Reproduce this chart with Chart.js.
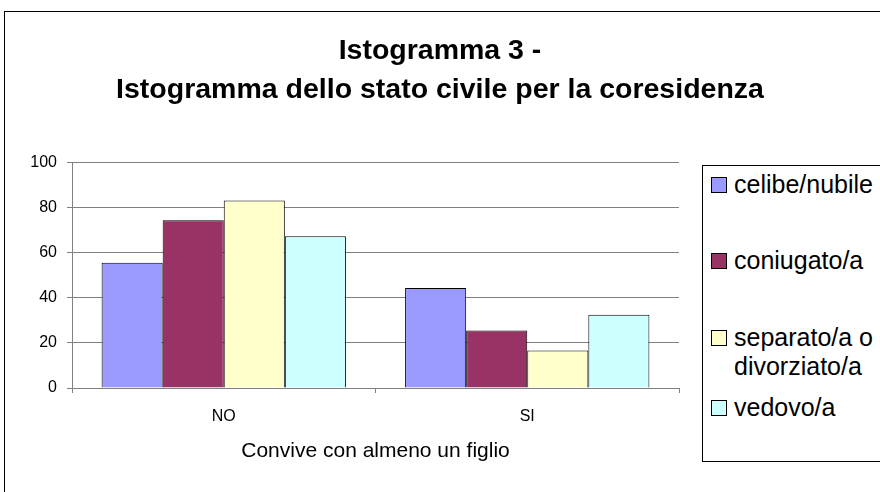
<!DOCTYPE html>
<html>
<head>
<meta charset="utf-8">
<script src="https://cdn.jsdelivr.net/npm/chart.js@4.4.0/dist/chart.umd.min.js"></script>
<style>
  html, body { margin: 0; padding: 0; background: #fff; overflow: hidden; }
  #wrap { position: relative; width: 880px; height: 492px; }
  #c { position: absolute; left: 0; top: 0; }
  #frame { position: absolute; left: 4px; top: 11px; width: 900px; height: 500px;
           border-top: 1px solid #000; border-left: 1px solid #000; pointer-events: none; }
  #legend { position: absolute; left: 702px; top: 165px; width: 200px; height: 295px;
            border: 1px solid #000; background: #fff;
            font-family: "Liberation Sans", Arial, sans-serif; font-size: 25px; color: #000; }
  .item { position: absolute; left: 8px; width: 150px; line-height: 29px; }
  .sw { position: absolute; left: 0; top: 7px; width: 14px; height: 14px; border: 1px solid #000; }
  .txt { position: absolute; left: 23px; top: 0; width: 146px; }
</style>
</head>
<body>
<div id="wrap">
  <canvas id="c" width="880" height="492"></canvas>
  <div id="frame"></div>
  <div id="legend"></div>
</div>
<script>
// ---- data ----
const titleLines = ["Istogramma 3 -", "Istogramma dello stato civile per la coresidenza"];
const categories = ["NO", "SI"];
const xAxisTitle = "Convive con almeno un figlio";
const seriesLabels = ["celibe/nubile", "coniugato/a", "separato/a o divorziato/a", "vedovo/a"];
const celibeNubile = [55.6, 44.4];
const coniugato = [74.5, 25.5];
const separatoDivorziato = [83.3, 16.7];
const vedovo = [67.4, 32.6];
const yTicks = [0, 20, 40, 60, 80, 100];

// ---- styles ----
const seriesColors = ["#9999FF", "#993366", "#FFFFCC", "#CCFFFF"];
const seriesValues = [celibeNubile, coniugato, separatoDivorziato, vedovo];
const legendTops = [4, 80, 157, 227];

const FONT = "'Liberation Sans', Arial, sans-serif";
Chart.defaults.color = "#000";
Chart.defaults.font.family = FONT;

const datasets = seriesLabels.map((lab, i) => ({
  label: lab,
  data: seriesValues[i],
  backgroundColor: seriesColors[i],
  borderColor: "#000",
  borderWidth: 1,
  categoryPercentage: 0.805,
  barPercentage: 1.0
}));

new Chart(document.getElementById("c"), {
  type: "bar",
  data: { labels: categories, datasets },
  options: {
    responsive: false,
    animation: false,
    devicePixelRatio: 1,
    layout: { padding: { top: 0, left: 0, right: 0, bottom: 0 } },
    plugins: {
      legend: { display: false },
      tooltip: { enabled: false },
      title: {
        display: true,
        text: titleLines,
        font: { family: FONT, size: 28.5, weight: "bold", lineHeight: 1.35 },
        color: "#000",
        padding: { top: 32, bottom: 54 }
      }
    },
    scales: {
      x: {
        grid: { display: true, drawOnChartArea: false, drawTicks: true, tickLength: 5, color: "#808080", offset: true },
        border: { display: true, color: "#808080", width: 1 },
        ticks: { font: { size: 16 }, padding: 14, color: "#000" },
        title: { display: true, text: xAxisTitle, font: { size: 21 }, color: "#000", padding: { top: 0, bottom: 28 } },
        afterFit: s => { s.height = 104; }
      },
      y: {
        min: 0, max: 100,
        afterBuildTicks: s => { s.ticks = yTicks.map(v => ({ value: v })); },
        grid: { color: "#808080", tickLength: 5, drawTicks: true },
        border: { display: true, color: "#808080", width: 1 },
        ticks: { font: { size: 16 }, padding: 10, color: "#000" },
        afterFit: s => { s.width = 72; }
      },
      yRight: {
        position: "right",
        display: true,
        grid: { display: false, drawTicks: false },
        border: { display: false },
        ticks: { display: false },
        afterFit: s => { s.width = 201; }
      }
    }
  }
});

// HTML legend built from the series arrays
const leg = document.getElementById("legend");
seriesLabels.forEach((lab, i) => {
  const it = document.createElement("div");
  it.className = "item";
  it.style.top = legendTops[i] + "px";
  const sw = document.createElement("div");
  sw.className = "sw";
  sw.style.background = seriesColors[i];
  const tx = document.createElement("div");
  tx.className = "txt";
  tx.textContent = lab;
  it.appendChild(sw); it.appendChild(tx);
  leg.appendChild(it);
});
</script>
</body>
</html>
